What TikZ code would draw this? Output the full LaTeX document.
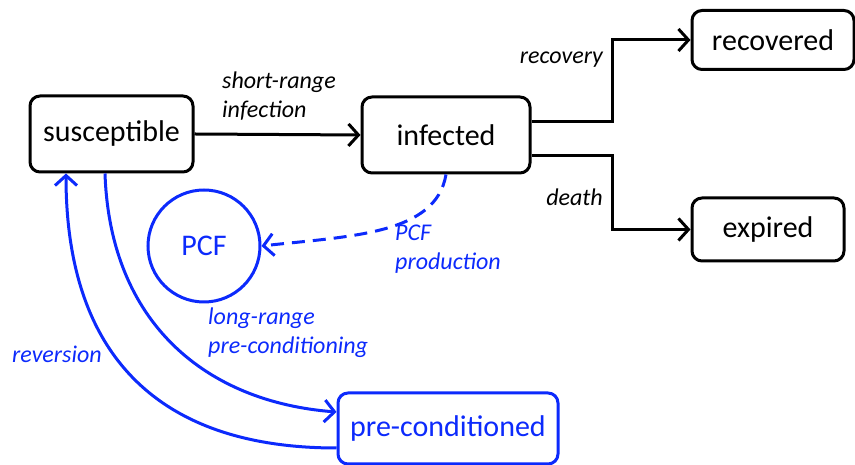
\documentclass[tikz,border=0pt]{standalone}
\usepackage{fontspec}
\setmainfont{Carlito}
\usetikzlibrary{arrows.meta,positioning}
\definecolor{pcfblue}{RGB}{12,42,252}

\begin{document}
\begin{tikzpicture}[x=1pt,y=1pt,
      state/.style={draw,rounded corners=10pt,line width=3pt,fill=white,
        inner sep=2pt,font=\fontsize{30}{35}\selectfont},
      flow/.style={line width=3pt,-{Straight Barb[length=10pt,width=22pt]}},
      lbl/.style={font=\fontsize{24}{29}\selectfont\itshape,align=left,inner sep=0pt},
      bluey/.style={draw=pcfblue,text=pcfblue}
    ]
    \useasboundingbox (0,0) rectangle (855,465);

    \node[state,minimum width=163pt,minimum height=76pt] (sus) at (111.5,331) {susceptible};
    \node[state,minimum width=168pt,minimum height=76pt] (inf) at (446,330) {infected};
    \node[state,minimum width=162pt,minimum height=59pt] (rec) at (773,425) {recovered};
    \node[state,minimum width=152pt,minimum height=63pt] (exp) at (768,235.5) {expired};
    \node[state,bluey,circle,rounded corners=0pt,minimum size=112pt] (pcf) at (204,219) {PCF};
    \node[state,bluey,minimum width=220pt,minimum height=71pt] (pre) at (448,36.5) {pre-conditioned};

    \draw[flow] (sus.east) -- (inf.west);
    \draw[flow] ([yshift=13pt]inf.east) -- ++(81pt,0) |- (rec.west);
    \draw[flow] ([yshift=-20.5pt]inf.east) -- ++(81pt,0) |- (exp.west);
    \draw[flow,bluey,dash pattern=on 13pt off 8pt] (inf.south)
      .. controls +(-10pt,-60pt) and +(90pt,10pt) .. (pcf.east);
    \draw[flow,bluey] ([xshift=-6.5pt]sus.south)
      .. controls +(5pt,-150pt) and +(-130pt,10pt) .. ([yshift=16.5pt]pre.west);
    \draw[flow,bluey] ([yshift=-19.5pt]pre.west)
      .. controls +(-180pt,0) and +(0,-180pt) .. ([xshift=-45.5pt]sus.south);

    \node[lbl,anchor=west] (lshort) at (222,369) {short-range\\infection};
    \node[lbl,anchor=east] (lrec) at (603,405) {recovery};
    \node[lbl,anchor=east] (ldeath) at (603,268) {death};
    \node[lbl,text=pcfblue,anchor=west] (lprod) at (395,216) {PCF\\production};
    \node[lbl,text=pcfblue,anchor=west] (llong) at (208,132) {long-range\\pre-conditioning};
    \node[lbl,text=pcfblue,anchor=west] (lrev) at (12,111) {reversion};
  \end{tikzpicture}
\end{document}
